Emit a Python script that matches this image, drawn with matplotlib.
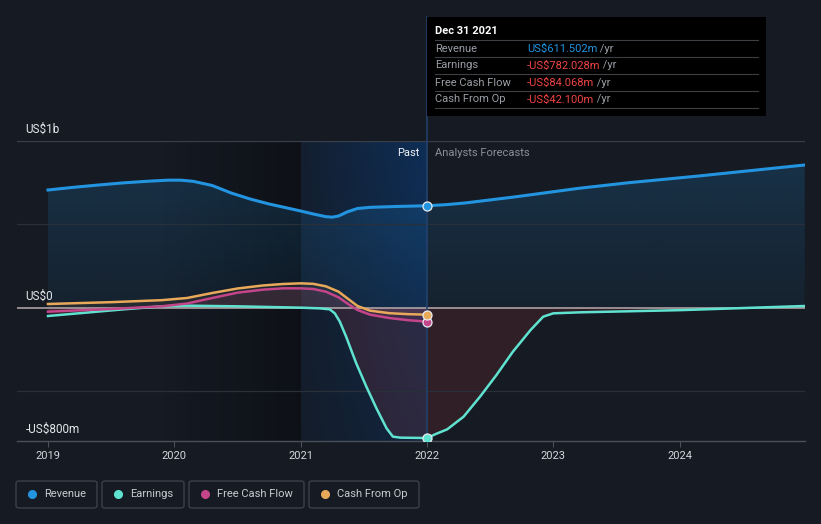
import numpy as np
import matplotlib.pyplot as plt
from matplotlib.patches import Rectangle, FancyBboxPatch
from matplotlib.lines import Line2D

plt.rcParams['font.family'] = ['Roboto', 'DejaVu Sans']

# values in US$ billions, x in decimal years
rev_past_x = [2019.0, 2019.2, 2019.4, 2019.6, 2019.8, 2019.95, 2020.05, 2020.15, 2020.3, 2020.45,
              2020.6, 2020.75, 2020.9, 2021.0, 2021.1, 2021.2, 2021.25, 2021.3, 2021.37, 2021.45,
              2021.55, 2021.75, 2022.0]
rev_past_y = [0.706, 0.722, 0.736, 0.749, 0.759, 0.765, 0.765, 0.758, 0.733, 0.688,
              0.652, 0.622, 0.597, 0.580, 0.562, 0.546, 0.543, 0.550, 0.575, 0.595,
              0.602, 0.607, 0.6115]
rev_fc_x = [2022.0, 2022.15, 2022.3, 2022.7, 2023.2, 2023.6, 2024.15, 2024.99]
rev_fc_y = [0.6115, 0.618, 0.628, 0.665, 0.716, 0.750, 0.790, 0.856]

earn_past_x = [2019.0, 2019.3, 2019.6, 2019.9, 2020.1, 2020.5, 2021.0, 2021.15, 2021.23, 2021.27,
               2021.31, 2021.36, 2021.44, 2021.52, 2021.60, 2021.68, 2021.73, 2021.79, 2022.0]
earn_past_y = [-0.050, -0.030, -0.010, 0.008, 0.012, 0.008, 0.0, -0.004, -0.010, -0.034,
               -0.084, -0.174, -0.334, -0.474, -0.604, -0.724, -0.774, -0.780, -0.782]
earn_fc_x = [2022.0, 2022.07, 2022.16, 2022.29, 2022.42, 2022.55, 2022.68, 2022.82, 2022.92,
             2023.0, 2023.21, 2024.0, 2024.99]
earn_fc_y = [-0.782, -0.758, -0.730, -0.654, -0.534, -0.404, -0.264, -0.134, -0.054,
             -0.034, -0.028, -0.015, 0.010]

fcf_x = [2019.0, 2019.5, 2019.9, 2020.1, 2020.3, 2020.5, 2020.7, 2020.86, 2021.0, 2021.1,
         2021.2, 2021.3, 2021.38, 2021.45, 2021.55, 2021.7, 2021.85, 2022.0]
fcf_y = [-0.024, -0.008, 0.008, 0.025, 0.058, 0.090, 0.108, 0.116, 0.116, 0.112,
         0.096, 0.062, 0.020, -0.014, -0.042, -0.062, -0.075, -0.084]

cfo_x = [2019.0, 2019.5, 2019.9, 2020.1, 2020.3, 2020.5, 2020.7, 2020.86, 2021.0, 2021.1,
         2021.2, 2021.3, 2021.38, 2021.45, 2021.55, 2021.7, 2021.85, 2022.0]
cfo_y = [0.022, 0.033, 0.045, 0.058, 0.088, 0.115, 0.133, 0.142, 0.146, 0.143,
         0.128, 0.096, 0.050, 0.010, -0.018, -0.033, -0.039, -0.042]

years = [2019, 2020, 2021, 2022, 2023, 2024]
ytick_vals = [1.0, 0.0, -0.8]
ytick_labels = ['US$1b', 'US$0', '-US$800m']

legend_names = ['Revenue', 'Earnings', 'Free Cash Flow', 'Cash From Op']
tip_rows = [('Revenue', 'US$611.502m'), ('Earnings', '-US$782.028m'),
            ('Free Cash Flow', '-US$84.068m'), ('Cash From Op', '-US$42.100m')]

BG = '#151a23'
C_REV = '#2394df'
C_EARN = '#5fe3d0'
C_FCF = '#c4458a'
C_CFO = '#e8a95b'

W, H = 821, 524
fig = plt.figure(figsize=(W / 100, H / 100), dpi=100, facecolor=BG)


def px(x, y):
    return x / W, 1 - y / H


ax = fig.add_axes([17 / W, (H - 441) / H, (805 - 17) / W, 300 / H])
ax.set_facecolor(BG)
x0, x1 = 2019 - 31 / 126.33, 2019 + 757 / 126.33
y0, y1 = -0.8, 1.0

# dark band before 2021
g = np.zeros((2, 200, 4))
g[..., 3] = np.linspace(0, 0.35, 200)[None, :]
ax.imshow(g, extent=[2019.9, 2021.0, y0, y1], aspect='auto', zorder=0, interpolation='bilinear')

# blue "past" band 2021-2022
hx = np.linspace(0.15, 0.6, 200)[None, :]
vy = np.linspace(1.0, 0.55, 100)[:, None]
b = np.zeros((100, 200, 4))
b[..., 0] = 10 / 255
b[..., 1] = 60 / 255
b[..., 2] = 122 / 255
b[..., 3] = hx * vy
ax.imshow(b, extent=[2021.0, 2022.0, y0, y1], aspect='auto', zorder=0, interpolation='bilinear')

# revenue fill with vertical gradient
rev_x = rev_past_x + rev_fc_x[1:]
rev_y = rev_past_y + rev_fc_y[1:]
poly = ax.fill_between(rev_x, rev_y, 0, color='none', lw=0)
rg = np.zeros((100, 2, 4))
rg[..., 0] = 35 / 255
rg[..., 1] = 148 / 255
rg[..., 2] = 223 / 255
rg[..., 3] = np.linspace(0.2, 0.06, 100)[:, None]
im = ax.imshow(rg, extent=[2019, x1, 0, 0.9], aspect='auto', zorder=1, interpolation='bilinear')
im.set_clip_path(poly.get_paths()[0], transform=ax.transData)

# earnings / cash flow fills
earn_x = earn_past_x + earn_fc_x[1:]
earn_y = earn_past_y + earn_fc_y[1:]
ax.fill_between(earn_x, earn_y, 0, color='#e64545', alpha=0.13, lw=0, zorder=1)
ax.fill_between(cfo_x, cfo_y, 0, color=C_CFO, alpha=0.08, lw=0, zorder=1)
ax.fill_between(fcf_x, fcf_y, 0, color=C_FCF, alpha=0.12, lw=0, zorder=1)

# gridlines
for v, c in [(1.0, '#3a404a'), (0.5, '#2a3039'), (-0.5, '#2a3039')]:
    ax.axhline(v, color=c, lw=0.9, zorder=2)
ax.axhline(0, color='#b9acae', lw=1.1, zorder=2)

# 2022 divider, running up to the tooltip
ax.axvline(2022, ymin=0, ymax=(441 - 17) / 300, color='#22406a', lw=1.2, zorder=2, clip_on=False)

ax.plot(rev_x, rev_y, color=C_REV, lw=2.2, zorder=5, solid_joinstyle='round')
ax.plot(earn_x, earn_y, color=C_EARN, lw=1.8, zorder=4, solid_joinstyle='round')
ax.plot(fcf_x, fcf_y, color=C_FCF, lw=1.8, zorder=4, solid_joinstyle='round')
ax.plot(cfo_x, cfo_y, color=C_CFO, lw=1.8, zorder=4, solid_joinstyle='round')

for c, v in [(C_REV, rev_past_y[-1]), (C_EARN, earn_past_y[-1]), (C_FCF, fcf_y[-1]), (C_CFO, cfo_y[-1])]:
    ax.plot([2022], [v], 'o', ms=6.5, color=c, mec='#e8ecf0', mew=0.9, zorder=6)

ax.set_xlim(x0, x1)
ax.set_ylim(y0, y1)
for s in ['top', 'right', 'left']:
    ax.spines[s].set_visible(False)
ax.spines['bottom'].set_color('#4a505a')
ax.spines['bottom'].set_linewidth(1.0)
ax.set_xticks(years)
ax.set_xticklabels([str(y) for y in years])
ax.tick_params(axis='x', colors='#4a505a', labelcolor='#d4d7dc', labelsize=8, length=4, pad=3)
ax.set_yticks([])

for v, lab in zip(ytick_vals, ytick_labels):
    ax.annotate(lab, (0, v), xycoords=('axes fraction', 'data'), xytext=(6, 3.5),
                textcoords='offset points', color='#e4e6ea', fontsize=8.5, va='bottom', ha='left')

ax.text(2022 - 0.06, 0.93, 'Past', color='#f0f2f5', fontsize=8, ha='right', va='center')
ax.text(2022 + 0.06, 0.93, 'Analysts Forecasts', color='#8a9099', fontsize=8, ha='left', va='center')

# tooltip
fig.patches.append(Rectangle(px(427, 116), 339 / W, 99 / H, transform=fig.transFigure,
                             facecolor='#000000', edgecolor='none', zorder=10))
fig.text(*px(435, 31), 'Dec 31 2021', color='white', fontsize=8, fontweight='bold', va='center', zorder=11)
for yy in [40, 57, 74, 91, 108]:
    fig.lines.append(Line2D([435 / W, 758 / W], [1 - yy / H] * 2, transform=fig.transFigure,
                            color='#3c3f44', lw=0.8, zorder=11))
for i, (name, val) in enumerate(tip_rows):
    yy = 48.5 + 17 * i
    fig.text(*px(435, yy), name, color='#9a9ea5', fontsize=8, va='center', zorder=11)
    t = fig.text(*px(527, yy), val, color=C_REV if i == 0 else '#ef4444', fontsize=8, va='center', zorder=11)
    ann = plt.annotate(' /yr', xy=(1, 0.5), xycoords=t, va='center', ha='left',
                       color='#9a9ea5', fontsize=8, zorder=11)
    ann.remove()
    fig.add_artist(ann)

# legend boxes
boxes = [(16, 97), (102, 184), (189, 304), (309, 419)]
for (bx0, bx1), name, c in zip(boxes, legend_names, [C_REV, C_EARN, C_FCF, C_CFO]):
    fig.patches.append(FancyBboxPatch(px(bx0, 508), (bx1 - bx0) / W, 27 / H,
                                      boxstyle='round,pad=0,rounding_size=0.004',
                                      transform=fig.transFigure, facecolor='none',
                                      edgecolor='#3b414b', lw=1.0))
    fig.lines.append(Line2D([(bx0 + 16) / W], [1 - 494 / H], transform=fig.transFigure,
                            marker='o', ms=5.5, color=c, lw=0))
    fig.text(*px(bx0 + 28, 494), name, color='#c8cbd0', fontsize=8, va='center')

fig.savefig('out.png', dpi=100, facecolor=BG)
